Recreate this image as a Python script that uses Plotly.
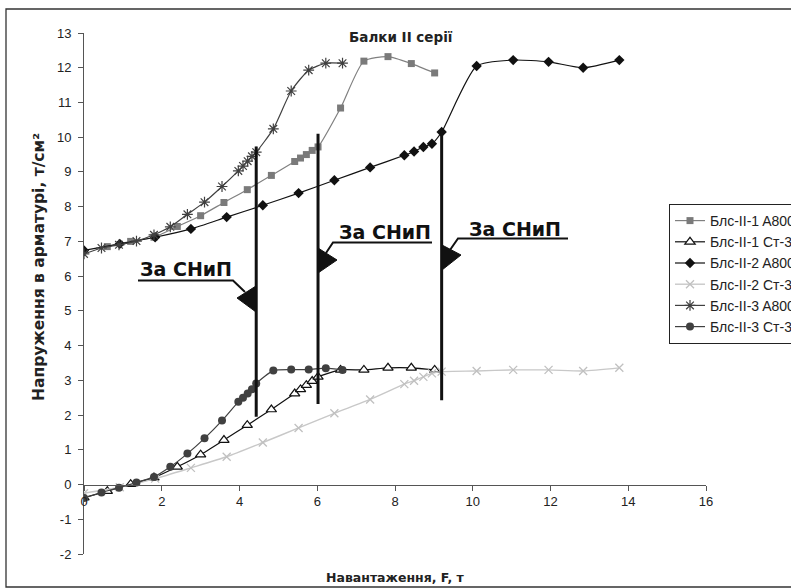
import plotly.graph_objects as go

# ---------------- data ----------------
LOAD_1 = [0, 0.6, 1.2, 1.8, 2.4, 3.0, 3.6, 4.2, 4.82, 5.42, 5.57, 5.72, 5.87, 6.02, 6.6, 7.2, 7.82, 8.42, 9.02]
S_II1_A800 = [6.85, 7.0, 7.12, 7.43, 7.74, 8.12, 8.49, 8.9, 9.3, 9.4, 9.5, 9.62, 9.72, 10.84, 12.19, 12.32, 12.12, 11.85]
S_II1_ST3 = [-0.38, -0.19, 0.01, 0.2, 0.51, 0.86, 1.28, 1.71, 2.16, 2.62, 2.74, 2.86, 2.98, 3.1, 3.3, 3.3, 3.36, 3.36, 3.3]

LOAD_2 = [0, 0.92, 1.83, 2.75, 3.67, 4.6, 5.52, 6.44, 7.36, 8.24, 8.49, 8.73, 8.95, 9.2, 10.1, 11.04, 11.95, 12.84, 13.77]
S_II2_A800 = [6.74, 6.93, 7.12, 7.36, 7.7, 8.04, 8.39, 8.76, 9.13, 9.48, 9.59, 9.72, 9.81, 10.15, 12.05, 12.22, 12.17, 12.0, 12.22]
S_II2_ST3 = [-0.25, -0.08, 0.17, 0.48, 0.8, 1.21, 1.63, 2.05, 2.45, 2.89, 2.99, 3.1, 3.2, 3.25, 3.27, 3.3, 3.3, 3.27, 3.36]

LOAD_3 = [0, 0.45, 0.9, 1.35, 1.8, 2.22, 2.66, 3.1, 3.55, 3.97, 4.09, 4.21, 4.32, 4.43, 4.87, 5.33, 5.78, 6.22, 6.65]
S_II3_A800 = [6.64, 6.81, 6.9, 7.01, 7.19, 7.42, 7.78, 8.13, 8.58, 9.03, 9.17, 9.31, 9.45, 9.57, 10.24, 11.33, 11.93, 12.13, 12.13]
S_II3_ST3 = [-0.39, -0.23, -0.09, 0.06, 0.22, 0.51, 0.89, 1.33, 1.84, 2.38, 2.5, 2.62, 2.74, 2.91, 3.28, 3.31, 3.31, 3.35, 3.3]

NAMES = ["Блс-II-1 A800", "Блс-II-1 Ст-3", "Блс-II-2 A800",
         "Блс-II-2 Ст-3", "Блс-II-3 A800", "Блс-II-3 Ст-3"]

# "За СНиП" limit lines (load, lower stress, upper stress)
SNIP_X = [4.43, 6.02, 9.2]
SNIP_Y_LOW = [1.95, 2.32, 2.43]
SNIP_Y_HIGH = [9.73, 10.1, 10.19]
SNIP_LABEL = "За СНиП"

X_TICKS = [0, 2, 4, 6, 8, 10, 12, 14, 16]
Y_TICKS = [-2, -1, 0, 1, 2, 3, 4, 5, 6, 7, 8, 9, 10, 11, 12, 13]
Y_TICK_TEXT = ["-2", "-1", "0", "1", "2", "3", "4", "5", "6", "7", "8", "9", "10", "11", "12", "13"]

# ---------------- layout geometry ----------------
W, H = 791, 588
ML, MR, MT, MB = 84, 85, 33, 34
PW, PH = W - ML - MR, H - MT - MB
X_RANGE = [0, 16]
Y_RANGE = [-2, 13]


def pxx(px):
    return (px - ML) / PW


def pxy(py):
    return (H - MB - py) / PH


def dx(px):  # pixel -> data x
    return X_RANGE[0] + (px - ML) / PW * (X_RANGE[1] - X_RANGE[0])


def dy(py):  # pixel -> data y
    return Y_RANGE[1] - (py - MT) / PH * (Y_RANGE[1] - Y_RANGE[0])


fig = go.Figure()
SM = 0.6

fig.add_trace(go.Scatter(
    x=LOAD_1[1:], y=S_II1_A800, name=NAMES[0], mode="lines+markers",
    line=dict(color="#808080", width=1.2, shape="spline", smoothing=SM),
    marker=dict(symbol="square", size=7, color="#7a7a7a")))
fig.add_trace(go.Scatter(
    x=LOAD_1, y=S_II1_ST3, name=NAMES[1], mode="lines+markers",
    line=dict(color="#111111", width=1.2, shape="spline", smoothing=SM),
    marker=dict(symbol="triangle-up", size=9, color="white",
                line=dict(color="#111111", width=1.2))))
fig.add_trace(go.Scatter(
    x=LOAD_2, y=S_II2_A800, name=NAMES[2], mode="lines+markers",
    line=dict(color="#111111", width=1.2, shape="spline", smoothing=SM),
    marker=dict(symbol="diamond", size=8, color="#111111")))
fig.add_trace(go.Scatter(
    x=LOAD_2, y=S_II2_ST3, name=NAMES[3], mode="lines+markers",
    line=dict(color="#c8c8c8", width=1.4, shape="spline", smoothing=SM),
    marker=dict(symbol="x-thin-open", size=8, color="#c0c0c0",
                line=dict(color="#c0c0c0", width=1.3))))
fig.add_trace(go.Scatter(
    x=LOAD_3, y=S_II3_A800, name=NAMES[4], mode="lines+markers",
    line=dict(color="#404040", width=1.2, shape="spline", smoothing=SM),
    marker=dict(symbol="asterisk-open", size=9, color="#404040",
                line=dict(color="#404040", width=1.2))))
fig.add_trace(go.Scatter(
    x=LOAD_3, y=S_II3_ST3, name=NAMES[5], mode="lines+markers",
    line=dict(color="#404040", width=1.2, shape="spline", smoothing=SM),
    marker=dict(symbol="circle", size=8, color="#404040")))

shapes = []
annotations = []

# limit lines
for xs, y0, y1 in zip(SNIP_X, SNIP_Y_LOW, SNIP_Y_HIGH):
    shapes.append(dict(type="line", xref="x", yref="y", x0=xs, x1=xs, y0=y0, y1=y1,
                       line=dict(color="#111111", width=3)))

# callouts (pixel geometry of text/underline/leader/arrowhead)
CALLOUTS = [
    dict(text=(186, 269), ul=(138, 233, 280.5), lead_from="right", lead_to=(245, 292),
         tri=[(237, 298), (256, 286), (256, 312)]),
    dict(text=(385, 232), ul=(333, 432, 242.5), lead_from="left", lead_to=(326, 253),
         tri=[(318, 248), (337, 260), (318, 273)]),
    dict(text=(515, 229), ul=(458, 568, 238.5), lead_from="left", lead_to=(450, 250),
         tri=[(442, 245), (461, 255), (442, 270)]),
]
for c in CALLOUTS:
    tx, ty = c["text"]
    annotations.append(dict(xref="x", yref="y", x=dx(tx), y=dy(ty), text="<b>" + SNIP_LABEL + "</b>",
                            showarrow=False, xanchor="center", yanchor="middle",
                            font=dict(family="DejaVu Sans", size=19, color="#111111")))
    x0, x1, yu = c["ul"]
    lx, ly = c["lead_to"]
    if c["lead_from"] == "right":
        path = f"M {dx(x0)},{dy(yu)} L {dx(x1)},{dy(yu)} L {dx(lx)},{dy(ly)}"
    else:
        path = f"M {dx(x1)},{dy(yu)} L {dx(x0)},{dy(yu)} L {dx(lx)},{dy(ly)}"
    shapes.append(dict(type="path", xref="x", yref="y", path=path,
                       line=dict(color="#111111", width=2)))
    tri = c["tri"]
    tpath = "M " + " L ".join(f"{dx(p[0])},{dy(p[1])}" for p in tri) + " Z"
    shapes.append(dict(type="path", xref="x", yref="y", path=tpath,
                       fillcolor="#111111", line=dict(color="#111111", width=1)))

# outer frame
shapes.append(dict(type="rect", xref="paper", yref="paper",
                   x0=pxx(6), x1=pxx(800), y0=pxy(587), y1=pxy(9),
                   line=dict(color="#333333", width=1.3), fillcolor="rgba(0,0,0,0)"))

# titles
annotations.append(dict(xref="paper", yref="paper", x=pxx(401), y=pxy(37),
                        text="<b>Балки II серії</b>", showarrow=False,
                        xanchor="center", yanchor="middle",
                        font=dict(family="DejaVu Sans", size=13.5, color="#222222")))
annotations.append(dict(xref="paper", yref="paper", x=pxx(395), y=pxy(577),
                        text="<b>Навантаження, F, т</b>", showarrow=False,
                        xanchor="center", yanchor="middle",
                        font=dict(family="DejaVu Sans", size=12.5, color="#222222")))
annotations.append(dict(xref="paper", yref="paper", x=pxx(39), y=pxy(267),
                        text="<b>Напруження в арматурі, т/см²</b>", showarrow=False,
                        textangle=-90, xanchor="center", yanchor="middle",
                        font=dict(family="DejaVu Sans", size=15.5, color="#222222")))

axis_common = dict(showline=True, linecolor="#555555", linewidth=1, ticks="outside",
                   ticklen=5, tickcolor="#555555", showgrid=False, zeroline=False,
                   tickfont=dict(family="Liberation Sans", size=13, color="#222222"))

fig.update_layout(
    width=W, height=H,
    margin=dict(l=ML, r=MR, t=MT, b=MB, autoexpand=False),
    paper_bgcolor="white", plot_bgcolor="white",
    xaxis=dict(range=X_RANGE, tickvals=X_TICKS, anchor="free",
               position=(0 - Y_RANGE[0]) / (Y_RANGE[1] - Y_RANGE[0]), **axis_common),
    yaxis=dict(range=Y_RANGE, tickvals=Y_TICKS, ticktext=Y_TICK_TEXT, domain=[0, 1],
               ticklabelstandoff=4, **axis_common),
    legend=dict(x=pxx(669), y=pxy(204), xanchor="left", yanchor="top",
                bordercolor="#222222", borderwidth=1, bgcolor="white",
                font=dict(family="Liberation Sans", size=14, color="#222222"),
                traceorder="normal"),
    shapes=shapes, annotations=annotations,
    hovermode=False,
)

fig.write_html("out.html", config={"displayModeBar": False, "staticPlot": True},
               post_script="document.body.style.margin='0';document.body.style.overflow='hidden';")
